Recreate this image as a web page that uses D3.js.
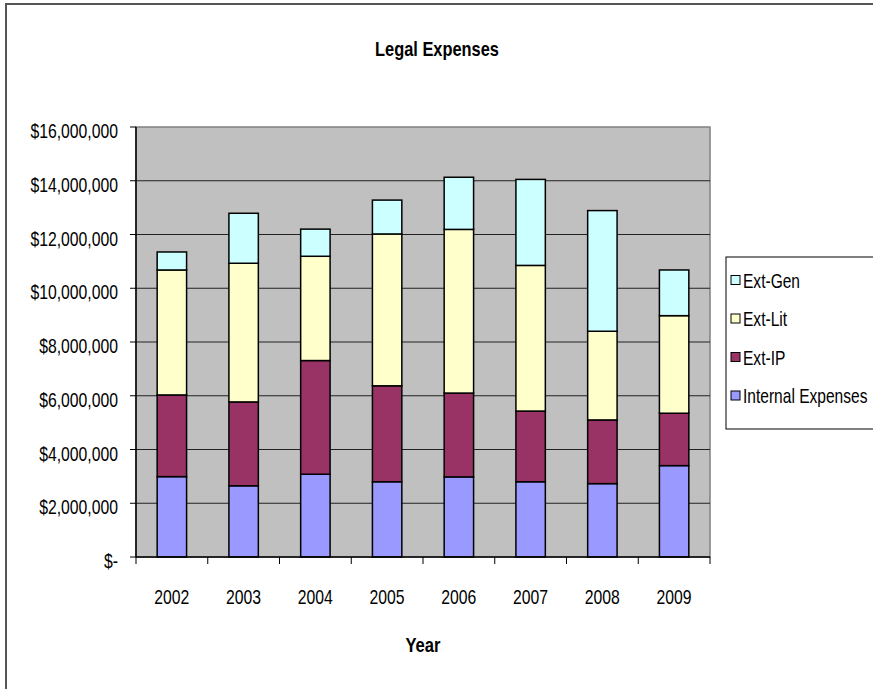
<!DOCTYPE html>
<html lang="en">
<head>
<meta charset="UTF-8">
<title>Legal Expenses</title>
<script src="https://d3js.org/d3.v7.min.js"></script>
<style>
  body { margin: 0; background: #fff; }
  text { font-family: "Liberation Sans", Arial, sans-serif; fill: #000; }
</style>
</head>
<body>
<div id="chart"></div>
<script>

const years = ["2002", "2003", "2004", "2005", "2006", "2007", "2008", "2009"];
const internalExp = [2990000, 2650000, 3080000, 2800000, 2980000, 2800000, 2730000, 3400000];
const extIP  = [3040000, 3120000, 4230000, 3570000, 3120000, 2630000, 2370000, 1950000];
const extLit = [4650000, 5160000, 3880000, 5650000, 6090000, 5420000, 3300000, 3630000];
const extGen = [670000, 1860000, 1010000, 1260000, 1940000, 3200000, 4490000, 1700000];
const seriesNames = ["Internal Expenses", "Ext-IP", "Ext-Lit", "Ext-Gen"];
const yTicks = [0, 2000000, 4000000, 6000000, 8000000, 10000000, 12000000, 14000000, 16000000];

const colors = { "Internal Expenses": "#9999ff", "Ext-IP": "#993366", "Ext-Lit": "#ffffcc", "Ext-Gen": "#ccffff" };

const W = 873, H = 689;
const plot = { left: 136, right: 710, top: 127, bottom: 557 };

// the source font is a tall narrow face, so squeeze the glyphs sideways
function squeeze(sel, k) {
    sel.each(function() {
        const L = this.getComputedTextLength();
        d3.select(this).attr("textLength", L * k).attr("lengthAdjust", "spacingAndGlyphs");
    });
}

const svg = d3.select("#chart").append("svg")
    .attr("width", W)
    .attr("height", H);

// outer chart frame (runs off the right and bottom edges)
svg.append("rect")
    .attr("x", 6).attr("y", 4)
    .attr("width", W + 20).attr("height", H + 20)
    .attr("fill", "#fff")
    .attr("stroke", "#555").attr("stroke-width", 2);

const x = d3.scaleBand().domain(years).range([plot.left, plot.right]).padding(0);
const y = d3.scaleLinear().domain([0, 16000000]).range([plot.bottom, plot.top]);
const barW = x.bandwidth() * 0.41;

// plot background
svg.append("rect")
    .attr("x", plot.left).attr("y", plot.top)
    .attr("width", plot.right - plot.left).attr("height", plot.bottom - plot.top)
    .attr("fill", "#c0c0c0")
    .attr("stroke", "#808080").attr("stroke-width", 1.5);

// gridlines
svg.append("g").selectAll("line")
    .data(yTicks.filter(d => d > 0 && d < 16000000))
    .enter().append("line")
    .attr("x1", plot.left).attr("x2", plot.right)
    .attr("y1", d => y(d)).attr("y2", d => y(d))
    .attr("stroke", "#222").attr("stroke-width", 1);

// stacked data
const rows = years.map((yr, i) => ({
    year: yr,
    "Internal Expenses": internalExp[i],
    "Ext-IP": extIP[i],
    "Ext-Lit": extLit[i],
    "Ext-Gen": extGen[i]
}));
const stacked = d3.stack().keys(seriesNames)(rows);

svg.append("g").selectAll("g")
    .data(stacked)
    .enter().append("g")
    .attr("fill", d => colors[d.key])
    .selectAll("rect")
    .data(d => d)
    .enter().append("rect")
    .attr("x", d => x(d.data.year) + (x.bandwidth() - barW) / 2)
    .attr("width", barW)
    .attr("y", d => y(d[1]))
    .attr("height", d => y(d[0]) - y(d[1]))
    .attr("stroke", "#000").attr("stroke-width", 1.5);

// y axis
const yAxis = svg.append("g");
yAxis.append("line")
    .attr("x1", plot.left).attr("x2", plot.left)
    .attr("y1", plot.top).attr("y2", plot.bottom)
    .attr("stroke", "#000").attr("stroke-width", 1.5);
yAxis.selectAll(".ytick")
    .data(yTicks).enter().append("line")
    .attr("x1", plot.left - 6).attr("x2", plot.left)
    .attr("y1", d => y(d)).attr("y2", d => y(d))
    .attr("stroke", "#000");
const fmt = d3.format(",");
yAxis.selectAll(".ylab")
    .data(yTicks).enter().append("text")
    .attr("x", 118)
    .attr("y", d => y(d) + 11)
    .attr("text-anchor", "end")
    .style("font-size", "21px")
    .text(d => d === 0 ? "$-" : "$" + fmt(d))
    .call(squeeze, 0.75);

// x axis
const xAxis = svg.append("g");
xAxis.append("line")
    .attr("x1", plot.left).attr("x2", plot.right)
    .attr("y1", plot.bottom).attr("y2", plot.bottom)
    .attr("stroke", "#000").attr("stroke-width", 1.5);
xAxis.selectAll(".xtick")
    .data(years.map(d => x(d)).concat([plot.right]))
    .enter().append("line")
    .attr("x1", d => d).attr("x2", d => d)
    .attr("y1", plot.bottom).attr("y2", plot.bottom + 7)
    .attr("stroke", "#000");
xAxis.selectAll(".xlab")
    .data(years).enter().append("text")
    .attr("x", d => x(d) + x.bandwidth() / 2)
    .attr("y", 604)
    .attr("text-anchor", "middle")
    .style("font-size", "21px")
    .text(d => d)
    .call(squeeze, 0.75);

// titles
svg.append("text")
    .attr("x", 437).attr("y", 56)
    .attr("text-anchor", "middle")
    .style("font-size", "21px").style("font-weight", "bold")
    .text("Legal Expenses")
    .call(squeeze, 0.78);

svg.append("text")
    .attr("x", (plot.left + plot.right) / 2).attr("y", 652)
    .attr("text-anchor", "middle")
    .style("font-size", "21px").style("font-weight", "bold")
    .text("Year")
    .call(squeeze, 0.79);

// legend (top entry is the top of the stack)
const legend = svg.append("g");
legend.append("rect")
    .attr("x", 726).attr("y", 257)
    .attr("width", 200).attr("height", 172)
    .attr("fill", "#fff").attr("stroke", "#000");
const legendItems = legend.selectAll(".item")
    .data(seriesNames.slice().reverse())
    .enter().append("g")
    .attr("transform", (d, i) => `translate(731, ${280 + i * 38.5})`);
legendItems.append("rect")
    .attr("x", 0).attr("y", -4.5)
    .attr("width", 9).attr("height", 9)
    .attr("fill", d => colors[d])
    .attr("stroke", "#000");
legendItems.append("text")
    .attr("x", 12).attr("y", 7.5)
    .style("font-size", "21px")
    .text(d => d)
    .call(squeeze, 0.74);

</script>
</body>
</html>
